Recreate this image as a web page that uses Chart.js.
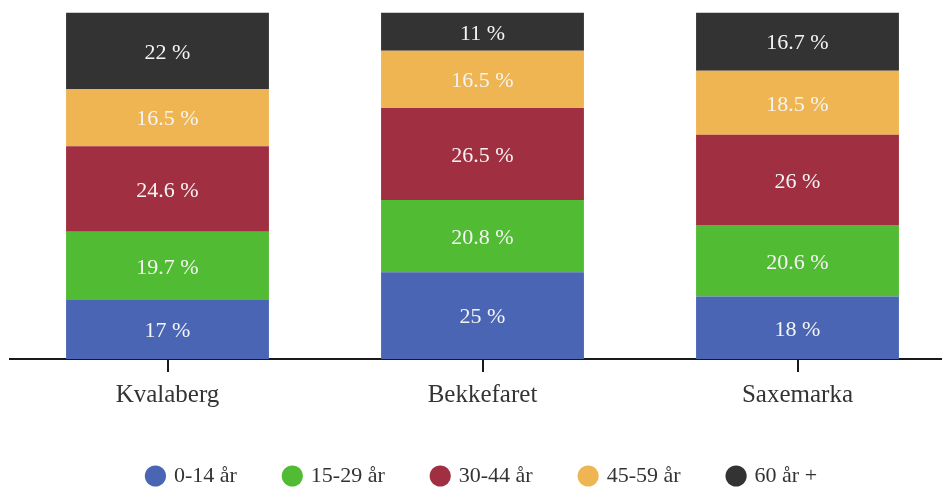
<!DOCTYPE html>
<html>
<head>
<meta charset="utf-8">
<script src="https://cdn.jsdelivr.net/npm/chart.js@4/dist/chart.umd.min.js"></script>
<style>
  html, body { margin: 0; padding: 0; background: #fff; overflow: hidden; }
  #wrap { width: 942px; height: 489px; overflow: hidden; position: relative; }
  canvas { display: block; }
</style>
</head>
<body>
<div id="wrap"><canvas id="c" width="960" height="497"></canvas></div>
<script>
const categories = ["Kvalaberg", "Bekkefaret", "Saxemarka"];
const seriesNames = ["0-14 år", "15-29 år", "30-44 år", "45-59 år", "60 år +"];
const age0_14 = [17, 25, 18];
const age15_29 = [19.7, 20.8, 20.6];
const age30_44 = [24.6, 26.5, 26];
const age45_59 = [16.5, 16.5, 18.5];
const age60plus = [22, 11, 16.7];
const colors = ["#4a65b4", "#52bb34", "#a03041", "#eeb552", "#333333"];

const FONT = "'Liberation Serif', 'Times New Roman', serif";

const valueLabels = {
  id: 'valueLabels',
  afterDatasetsDraw(chart) {
    const ctx = chart.ctx;
    ctx.save();
    ctx.font = "22px " + FONT;
    ctx.fillStyle = "#f4f4f4";
    ctx.textAlign = "center";
    ctx.textBaseline = "middle";
    chart.data.datasets.forEach((ds, i) => {
      const meta = chart.getDatasetMeta(i);
      if (meta.hidden) return;
      meta.data.forEach((bar, j) => {
        const v = ds.data[j];
        const yMid = (bar.y + bar.base) / 2;
        ctx.fillText(v + " %", bar.x, yMid + 2);
      });
    });
    ctx.restore();
  }
};

const seriesData = [age0_14, age15_29, age30_44, age45_59, age60plus];

new Chart(document.getElementById('c'), {
  type: 'bar',
  data: {
    labels: categories,
    datasets: seriesNames.map((n, i) => ({
      label: n,
      data: seriesData[i],
      backgroundColor: colors[i],
      borderWidth: 0,
      barPercentage: 0.644,
      categoryPercentage: 1.0
    }))
  },
  options: {
    responsive: false,
    devicePixelRatio: 1,
    animation: false,
    layout: { padding: { left: 10, right: 5, top: 12, bottom: 0 } },
    plugins: {
      tooltip: { enabled: false },
      legend: {
        position: 'bottom',
        labels: {
          usePointStyle: true,
          pointStyle: 'circle',
          boxWidth: 15,
          boxHeight: 15,
          padding: 48,
          color: '#333',
          font: { family: FONT, size: 22 }
        }
      }
    },
    scales: {
      x: {
        stacked: true,
        afterFit(scale) { scale.height = 58; },
        border: { display: true, color: '#1a1a1a', width: 2 },
        grid: { display: true, offset: false, drawOnChartArea: false, drawTicks: true, tickLength: 13, color: '#1a1a1a', lineWidth: 2 },
        ticks: { color: '#333', padding: 8, font: { family: FONT, size: 25 } }
      },
      y: {
        stacked: true,
        display: false,
        min: 0,
        max: 100
      }
    }
  },
  plugins: [valueLabels]
});
</script>
</body>
</html>
